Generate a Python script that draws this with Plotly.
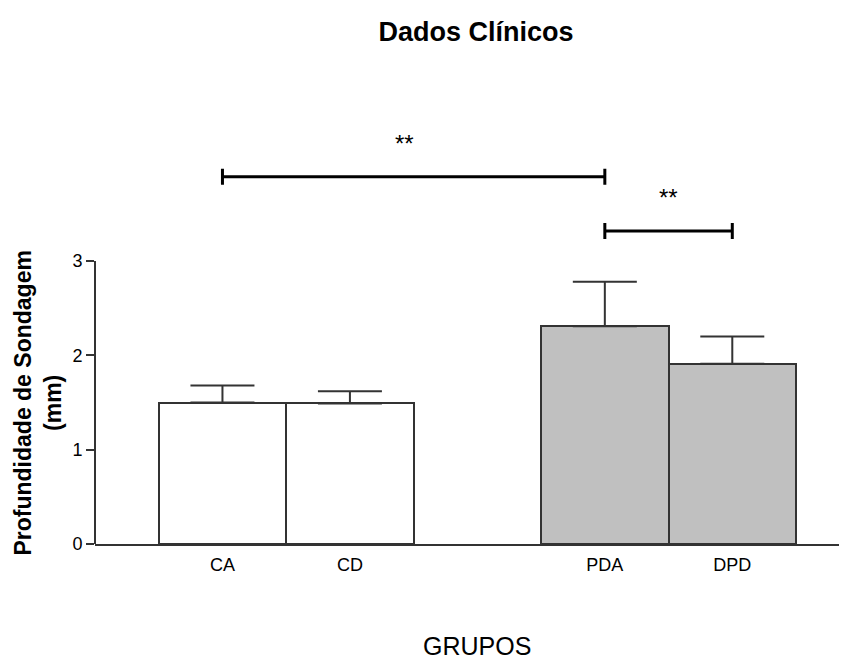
import plotly.graph_objects as go

# ---- data ----
groups = ["CA", "CD", "PDA", "DPD"]
group_pos = [0, 1, 3, 4]
means = [1.50, 1.49, 2.31, 1.91]
sem = [0.18, 0.13, 0.47, 0.29]
bar_colors = ["#ffffff", "#ffffff", "#c0c0c0", "#c0c0c0"]
y_ticks = [0, 1, 2, 3]

# significance brackets: (from position, to position, height, label)
brackets = [(0, 3, 3.895, "**"), (3, 4, 3.32, "**")]

FONT = "Liberation Sans, Arial, sans-serif"
DARK = "#333333"

fig = go.Figure()
fig.add_trace(go.Bar(
    x=group_pos, y=means, width=1,
    marker=dict(color=bar_colors, line=dict(color=DARK, width=2)),
    error_y=dict(type="data", symmetric=False, array=sem,
                 arrayminus=[0] * len(sem), color=DARK, thickness=2, width=32),
    showlegend=False, hoverinfo="skip",
))

tick_half = 0.085
for x0, x1, h, lab in brackets:
    fig.add_trace(go.Scatter(
        x=[x0, x0, x0, x1, x1, x1],
        y=[h + tick_half, h - tick_half, h, h, h + tick_half, h - tick_half],
        mode="lines", line=dict(color="#000000", width=3),
        showlegend=False, hoverinfo="skip",
    ))
    fig.add_annotation(x=(x0 + x1) / 2, y=h, xref="x", yref="y", text=lab,
                       showarrow=False, yanchor="middle", yshift=33,
                       xshift=-9 if (x1 - x0) > 1 else 0,
                       font=dict(family=FONT, size=24, color="#000000"))

# y axis line (only from 0 to 3)
fig.add_shape(type="line", xref="paper", yref="y", x0=0, x1=0,
              y0=y_ticks[0], y1=y_ticks[-1], line=dict(color=DARK, width=2))

fig.add_annotation(text="<b>Profundidade de Sondagem<br>(mm)</b>", textangle=-90,
                   xref="paper", yref="y", x=-0.0758, y=1.5,
                   xanchor="center", yanchor="middle", showarrow=False,
                   font=dict(family=FONT, size=23, color="#000000"))
fig.add_annotation(text="GRUPOS", xref="paper", yref="paper", x=0.5086, y=-0.230,
                   xanchor="center", yanchor="middle", showarrow=False,
                   font=dict(family=FONT, size=25, color="#000000"))

fig.update_layout(
    width=839, height=651,
    margin=dict(l=87, r=0, t=92, b=115),
    paper_bgcolor="white", plot_bgcolor="white",
    title=dict(text="<b>Dados Clínicos</b>", x=0.5578, y=0.9631,
               xanchor="center", yanchor="middle",
               font=dict(family=FONT, size=27, color="#000000")),
    bargap=0,
    xaxis=dict(range=[-1, 4.9], tickvals=group_pos, ticktext=groups,
               showline=True, linecolor=DARK, linewidth=2, ticks="",
               ticklabelstandoff=3,
               showgrid=False, zeroline=False,
               tickfont=dict(family=FONT, size=18, color="#000000")),
    yaxis=dict(range=[0, 4.708], tickvals=y_ticks, showline=False,
               ticks="outside", ticklen=8, tickwidth=2, tickcolor=DARK,
               showgrid=False, zeroline=False,
               tickfont=dict(family=FONT, size=18, color="#000000")),
)

fig.write_html("out.html")
